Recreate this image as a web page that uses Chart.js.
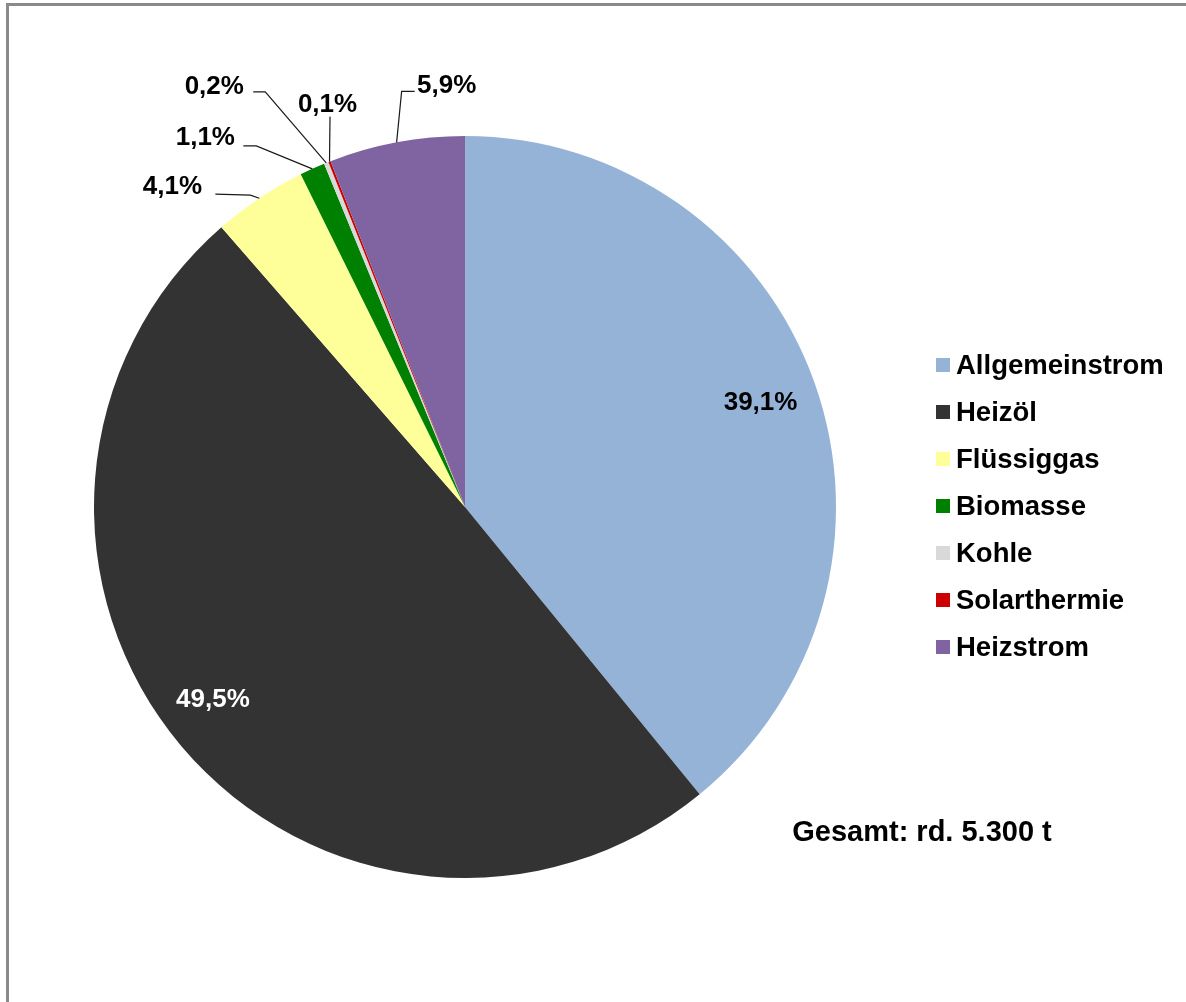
<!DOCTYPE html>
<html lang="de">
<head>
    <meta charset="UTF-8">
    <title>CO2-Emissionen nach Energieträgern</title>
    <script src="https://cdn.jsdelivr.net/npm/chart.js"></script>
    <style>
        body {
            margin: 0;
            background: #fff;
        }
        #rahmen {
            position: absolute;
            left: 6px;
            top: 3px;
            right: 0;
            bottom: 0;
            border-top: 3px solid #8a8a8a;
            border-left: 3px solid #8a8a8a;
        }
        canvas {
            position: absolute;
            left: 0;
            top: 0;
        }
    </style>
</head>
<body>
    <div id="rahmen"></div>
    <canvas id="kuchen" width="1186" height="1002"></canvas>

    <script>
        // Energieträger und Anteile in %
        const traeger = ['Allgemeinstrom', 'Heizöl', 'Flüssiggas', 'Biomasse', 'Kohle', 'Solarthermie', 'Heizstrom'];
        const anteile = [39.1, 49.5, 4.1, 1.1, 0.2, 0.1, 5.9];
        const farben = ['#95B3D7', '#333333', '#FFFF99', '#008000', '#D9D9D9', '#CC0000', '#8064A2'];
        const gesamtText = 'Gesamt: rd. 5.300 t';

        const schrift = "'Liberation Sans', Arial, sans-serif";

        // Lage der Beschriftungen: innen (Anteil vom Radius) oder außen mit Führungslinie,
        // Versatz jeweils vom Mittelpunkt des Außenbogens aus gerechnet
        const beschriftung = [
            { innen: 0.84, dx: 2, dy: -1, farbe: '#000' },
            { innen: 0.85, dx: -11, dy: -11, farbe: '#fff' },
            { text: [-87, -12], knick: [-9, -3], ende: [-44, -4] },
            { text: [-107, -32], knick: [-56, -23], ende: [-69, -23] },
            { text: [-112, -77], knick: [-61, -71], ende: [-73, -71] },
            { text: [-2, -58], knick: [0.5, -45], ende: [0.5, -45] },
            { text: [50, -58], knick: [5, -51], ende: [18, -51] }
        ];

        function prozent(v) {
            return v.toFixed(1).replace('.', ',') + '%';
        }

        const beschriftungPlugin = {
            id: 'beschriftung',
            afterDatasetsDraw(chart) {
                const ctx = chart.ctx;
                const meta = chart.getDatasetMeta(0);
                ctx.save();
                ctx.font = 'bold 26px ' + schrift;
                ctx.textAlign = 'center';
                ctx.textBaseline = 'middle';
                meta.data.forEach((arc, i) => {
                    const p = arc.getProps(['x', 'y', 'startAngle', 'endAngle', 'outerRadius'], true);
                    const mitte = (p.startAngle + p.endAngle) / 2;
                    const b = beschriftung[i];
                    const text = prozent(chart.data.datasets[0].data[i]);
                    if (b.innen) {
                        const r = p.outerRadius * b.innen;
                        ctx.fillStyle = b.farbe;
                        ctx.fillText(text, p.x + Math.cos(mitte) * r + b.dx, p.y + Math.sin(mitte) * r + b.dy + 1);
                        return;
                    }
                    const px = p.x + Math.cos(mitte) * p.outerRadius;
                    const py = p.y + Math.sin(mitte) * p.outerRadius;
                    ctx.strokeStyle = '#1a1a1a';
                    ctx.lineWidth = 1.2;
                    ctx.beginPath();
                    ctx.moveTo(px, py);
                    ctx.lineTo(px + b.knick[0], py + b.knick[1]);
                    ctx.lineTo(px + b.ende[0], py + b.ende[1]);
                    ctx.stroke();
                    ctx.fillStyle = '#000';
                    ctx.fillText(text, px + b.text[0], py + b.text[1] + 1);
                });
                ctx.restore();
            },
            afterDraw(chart) {
                // Legende rechts und Gesamtsumme
                const ctx = chart.ctx;
                const ds = chart.data.datasets[0];
                ctx.save();
                ctx.font = 'bold 27.5px ' + schrift;
                ctx.textBaseline = 'middle';
                ctx.textAlign = 'left';
                chart.data.labels.forEach((name, i) => {
                    const y = 365 + i * 47;
                    ctx.fillStyle = ds.backgroundColor[i];
                    ctx.fillRect(936, y - 7, 14, 14);
                    ctx.fillStyle = '#000';
                    ctx.fillText(name, 956, y + 1);
                });
                ctx.font = 'bold 29px ' + schrift;
                ctx.textAlign = 'center';
                ctx.fillText(gesamtText, 922, 833);
                ctx.restore();
            }
        };

        new Chart(document.getElementById('kuchen').getContext('2d'), {
            type: 'pie',
            data: {
                labels: traeger,
                datasets: [{
                    data: anteile,
                    backgroundColor: farben,
                    borderWidth: 0
                }]
            },
            options: {
                responsive: false,
                animation: false,
                layout: {
                    padding: { left: 4, right: 260, top: 136, bottom: 124 }
                },
                plugins: {
                    legend: { display: false },
                    tooltip: { enabled: false }
                }
            },
            plugins: [beschriftungPlugin]
        });
    </script>
</body>
</html>
